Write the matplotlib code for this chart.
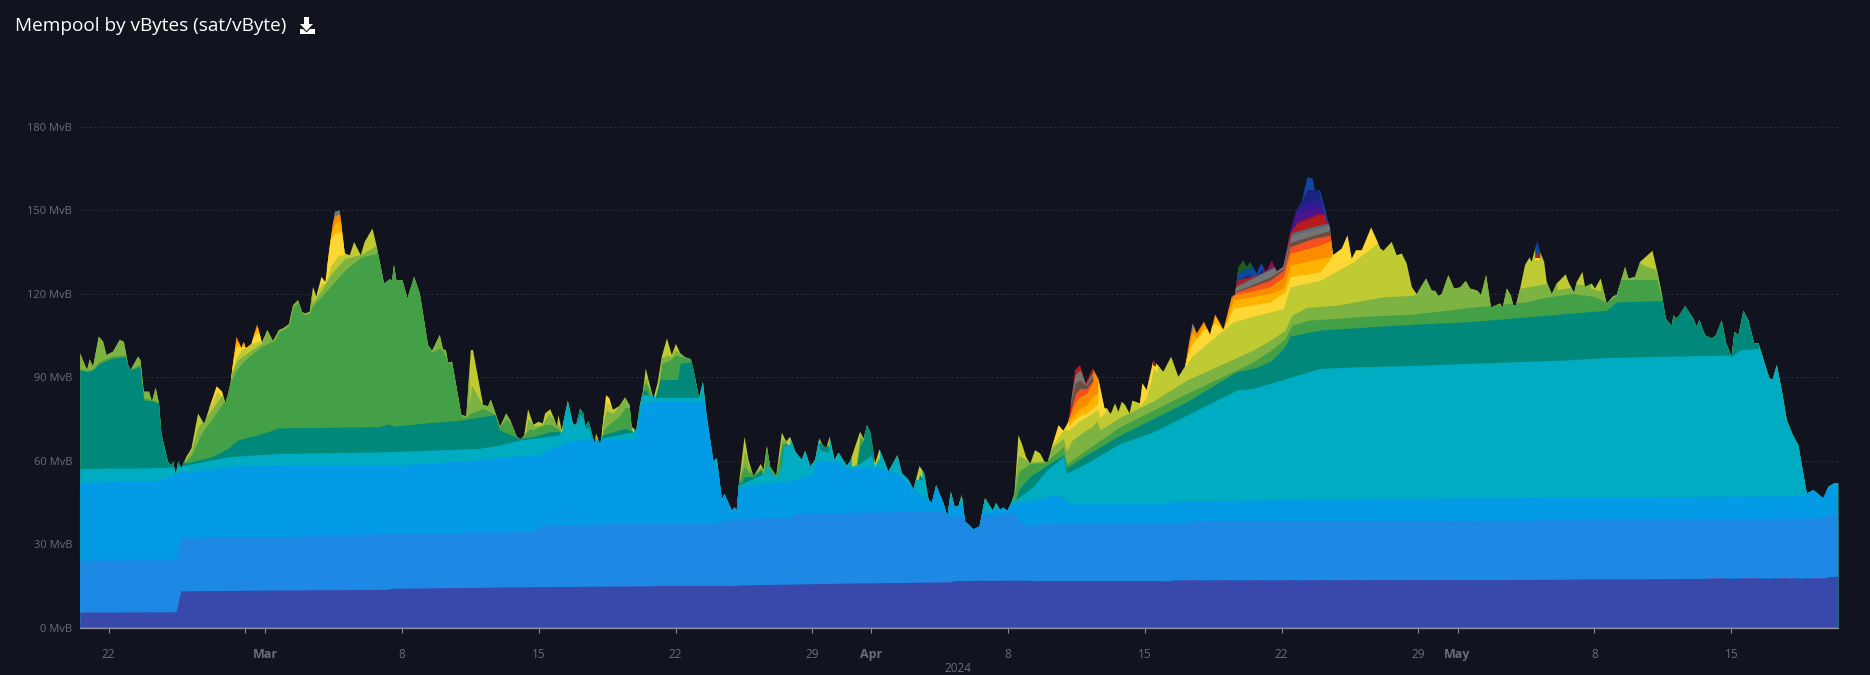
import numpy as np
import matplotlib
matplotlib.use("Agg")
import matplotlib.pyplot as plt
from matplotlib.patches import Polygon
from matplotlib.transforms import IdentityTransform

# x is days after 22 Feb 2024, y is cumulative MvB (top edge of each band)
# TOP means the band reaches the total line at that day
TOP = 200

total = [(-1.47,98.8),(-1.1,92.6),(-0.96,96.4),(-0.79,93.8),(-0.5,104.6),(-0.28,102.8),(-0.11,98),(0.23,99.2),(0.57,103.4),(0.78,102.8),
    (1.0,94.4),(1.13,92.6),(1.51,97.4),(1.63,96.2),(1.8,84.8),(2.07,84.8),(2.22,81.2),(2.41,86.2),(2.58,80.6),(2.7,69.8),
    (3.04,59.6),(3.21,58.4),(3.3,59.6),(3.44,54.8),(3.56,59.6),(3.73,57.2),(3.98,61.4),(4.24,64.4),(4.58,77),(4.89,73.2),
    (5.26,81.2),(5.53,86.8),(5.81,84.8),(5.98,80.6),(6.25,88.4),(6.54,104.6),(6.8,100.4),(6.91,102.8),(7.02,100.4),(7.31,101.9),
    (7.6,109.1),(7.85,102.2),(8.12,107),(8.41,103),(8.72,107),(8.93,107.6),(9.23,109.1),(9.44,115.9),(9.69,117.7),(9.9,113.5),
    (10.03,112.9),(10.29,113.5),(10.46,122.5),(10.63,119),(10.89,126.1),(11.09,124.3),(11.35,139.3),(11.57,149.5),(11.82,150.1),(12.08,134.5),
    (12.34,133.9),(12.56,138.7),(12.9,133.9),(13.1,138.7),(13.5,143.5),(13.7,137.5),(14.09,123.7),(14.38,125.2),(14.5,124.9),(14.6,130.3),
    (14.72,124.9),(15.03,124.9),(15.29,118.3),(15.63,126.1),(15.92,120.1),(16.34,101.6),(16.55,99.5),(16.94,105.2),(17.11,100),(17.25,99.8),
    (17.37,95.2),(17.57,95.6),(18.05,76.4),(18.3,76),(18.53,99.8),(18.64,99.8),(19.16,80),(19.41,79.6),(19.55,82),(20.03,72.2),
    (20.34,77),(20.54,74.6),(20.88,68.6),(21.09,67.7),(21.26,69.2),(21.46,78.5),(21.73,72.9),(21.99,74),(22.21,73.4),(22.33,77),
    (22.59,78.5),(22.79,75.2),(22.93,72.2),(23.01,76.4),(23.18,71),(23.49,81.6),(23.75,73.4),(23.92,72.8),(24.12,78.8),(24.29,77),
    (24.38,72.2),(24.55,74.3),(24.86,66.2),(24.94,69.8),(25.15,65.6),(25.23,69.8),(25.45,83.6),(25.62,82.4),(25.79,78.2),(26.13,79.7),
    (26.42,82.8),(26.65,80),(26.76,72.2),(26.99,70.8),(27.16,79.4),(27.33,84.8),(27.48,93.2),(27.62,89),(27.87,82.4),(28.08,87.8),
    (28.3,97.4),(28.56,104),(28.81,98),(29.02,102),(29.24,98.6),(29.49,97.2),(29.78,96.5),(29.92,92.6),(30.21,82.4),(30.4,88.4),
    (30.6,75.8),(30.94,59.7),(31.11,60.9),(31.37,45.9),(31.5,48),(31.88,42),(32.02,43.2),(32.13,42),(32.25,51.9),(32.53,68.6),
    (32.73,60.3),(32.99,54.3),(33.36,58.8),(33.5,56.7),(33.67,65.3),(33.84,57.9),(34.15,54.5),(34.44,70.1),(34.66,66.9),(34.86,68.6),
    (35.12,63.3),(35.46,60.3),(35.63,63.6),(35.89,57.9),(36.14,60.3),(36.35,68),(36.53,65.6),(36.71,64.4),(36.88,68.6),(37.13,60.3),
    (37.34,62.9),(37.76,58.2),(37.93,59.7),(38.44,70.4),(38.62,68),(38.79,72.8),(38.96,70.4),(39.21,59.1),(39.43,64.1),(39.89,56.1),
    (40.35,62),(40.58,55.5),(40.92,53.1),(41.17,49.7),(41.48,58.1),(41.72,55.5),(41.94,45.9),(42.11,44.7),(42.33,51.2),(42.7,44.7),
    (42.91,39.9),(43.08,48.9),(43.27,43.5),(43.47,43.5),(43.64,47.7),(43.81,38.1),(44.24,35.3),(44.55,36.3),(44.83,46.5),(45.23,42),
    (45.4,44.7),(45.6,42.3),(45.77,43.1),(45.98,41.9),(46.2,45.3),(46.34,48.3),(46.54,69.2),(46.71,66.2),(46.93,61.4),(47.14,58.8),
    (47.39,63.8),(47.65,62.6),(47.9,59.3),(48.04,59.6),(48.33,66.8),(48.59,72.8),(48.84,70.8),(49.1,74),(49.44,92.6),(49.69,94.4),
    (49.98,87.8),(50.34,93.2),(50.63,89.3),(50.94,78.8),(51.06,78.8),(51.26,76.8),(51.48,80.6),(51.65,77.6),(51.83,81.2),(52.0,80),
    (52.22,77),(52.37,81.6),(52.76,80.6),(52.88,87.8),(53.1,85.4),(53.44,96.2),(53.95,92),(54.35,97.4),(54.72,90.2),(55.06,93.8),
    (55.44,109.4),(55.66,105.8),(56.03,110),(56.34,105.2),(56.6,112.6),(56.85,109.4),(57.02,107),(57.45,119),(57.62,119.6),(57.79,129.7),
    (58.05,132.1),(58.22,129.7),(58.39,131.5),(58.73,127.3),(58.95,131),(59.21,128),(59.5,132.1),(59.75,128),(60.09,129.7),(60.43,141.7),
    (60.77,150.1),(61.03,153.1),(61.32,161.9),(61.59,161.5),(61.71,157.1),(61.97,157.3),(62.48,143.5),(62.62,133.9),(62.74,134.5),(63.08,136.3),
    (63.37,141.1),(63.59,132.7),(63.81,135.7),(64.1,135.7),(64.58,143.9),(64.87,139.3),(65.04,136.3),(65.21,135.5),(65.63,138.7),(65.89,133.9),
    (66.15,134.5),(66.4,130.9),(66.66,122.5),(66.91,119.9),(67.39,125.5),(67.68,121.1),(67.85,121.1),(68.02,119.2),(68.19,119.9),(68.53,126.7),
    (68.82,121.9),(69.13,122.3),(69.42,124.6),(69.64,121.9),(70.02,121.1),(70.2,119.5),(70.46,126.7),(70.71,115.1),(71.17,116.5),(71.31,115.1),
    (71.52,121.9),(71.72,119.5),(71.86,115.7),(71.99,115.9),(72.2,121.9),(72.45,130.3),(72.68,133.1),(72.79,131.5),(73.08,139.1),(73.22,135.1),
    (73.43,131.5),(73.56,124.3),(73.82,119.9),(74.07,123.7),(74.53,127),(74.67,124.3),(74.96,120.4),(75.1,124.3),(75.39,127.9),(75.52,122.5),
    (75.86,123.7),(76.03,121.9),(76.32,125.5),(76.63,116.5),(76.97,119.2),(77.14,119.5),(77.57,129.7),(77.74,125.5),(78.08,126.1),(78.34,131.5),
    (78.97,135.5),(79.22,127.9),(79.44,120.1),(79.65,111.1),(79.96,108.4),(80.04,112.3),(80.18,111.1),(80.35,112.3),(80.64,115.6),(81.06,111.1),
    (81.23,108.1),(81.37,110.5),(81.66,105.1),(82.0,103.9),(82.22,105.1),(82.51,110.5),(82.74,102.2),(83.02,97.4),(83.16,106.3),(83.37,105.1),
    (83.62,113.9),(83.88,110.5),(84.17,102.2),(84.39,102.2),(84.95,89.6),(85.12,89.2),(85.33,94.4),(85.58,85.4),(85.84,74.6),(86.15,69.2),
    (86.43,65.6),(86.86,48.2),(87.2,49.4),(87.71,46.4),(87.97,50.6),(88.31,52),(88.47,51.8)]

indigo_top = [(-1.47,5.5),(3.45,5.6),(3.7,13.2),(9,13.5),(14.2,13.7),(14.5,14.1),(22,14.7),(28,15),(32,15),(32.3,15.3),(38,16),(43,16.4),(43.3,16.9),
    (47,17),(47.4,16.7),(54,16.7),(54.5,17),(70,17.2),(80,17.6),(87.7,17.7),(88,18.3),(88.47,18.5)]

blue_top = [(-1.47,24.2),(3.45,24.4),(3.7,32.3),(9,32.7),(14.7,33.9),(21.8,34.5),(22,36.5),(26,37.5),(31.1,37.6),(32.2,39.2),(35,39.8),(35.1,41),
    (42.7,42),(43,40),(46.3,41.1),(46.8,36.9),(48.3,37.5),(55.15,37.5),(55.4,38.1),(70,38.5),(87,39.3),(87.6,39.5),(88,40.7),(88.47,41)]

lightblue_top = [(-1.47,52.2),(2.5,52.8),(3.4,55),(3.76,56),(6.6,58.2),(14.7,58.4),(18.7,60.2),(20,61.2),(21.7,62),(22.25,63.3),(23.4,66.8),(24.7,68),
    (26.85,67.7),(27,69.3),(27.28,80.6),(27.87,81.2),(30.26,81.2),(30.45,81),(30.6,76),(31,58),(31.2,58),(31.37,TOP),(32.2,TOP),(32.27,50.7),
    (35,53),(36,55),(36.2,59.7),(37.3,59.7),(37.76,57.3),(39.2,57.8),(40.35,55.5),(41.2,50),(41.9,46),(42,TOP),(42.75,TOP),(42.9,45),(43.6,44),
    (45,42),(46.2,44.7),(47.3,45.9),(48.3,47.7),(48.84,47),(49,44.7),(53.5,44.7),(55.15,45.5),(64,46.5),(75,46.8),(86.8,47.5),(87,TOP),(88.47,TOP)]

cyan_top = [(-1.47,57.2),(2.9,57.5),(3.9,58.4),(5.26,60.2),(6.1,61.4),(8.67,62.6),(14.3,63.2),(18.9,64.4),(20,65.6),(21,67.4),(23,69.2),(23.2,71),
    (23.35,TOP),(23.95,TOP),(24,74),(24.12,77),(24.3,75),(24.4,71),(24.55,72.5),(24.8,66),(25.15,68),(26.85,70.4),(27.1,76),(27.2,83.6),(27.9,83.6),
    (28,82.4),(30.2,82.4),(30.35,TOP),(31.3,TOP),(32.25,51.3),(33,53.7),(33.36,54.9),(33.5,55),(33.67,59),(33.84,56),(34.15,54),(34.4,58),(34.5,65),
    (34.86,66.2),(35,TOP),(36.1,TOP),(36.35,64),(36.84,63),(37,TOP),(37.95,TOP),(38.0,58),(38.44,59),(39,62),(39.2,58),(39.25,59),(39.43,60.9),
    (39.7,TOP),(40.2,TOP),(40.3,59),(40.45,TOP),(41.2,TOP),(41.3,53),(41.6,53),(41.8,TOP),(42.15,TOP),(42.3,49.5),(42.4,49),(42.6,TOP),(46.2,TOP),
    (46.3,45.3),(46.6,47),(47.3,50.7),(48,56.7),(48.84,61.5),(49,55.5),(50,59),(51.74,66.2),(53.45,70.4),(55.15,76.4),(57.7,85.4),(58.56,86),
    (60.26,89.6),(62,93.2),(64,93.8),(66,94.1),(74.6,96.2),(76.6,97.1),(82.9,98),(83,97.4),(83.45,99.8),(84.39,100.4),(84.5,TOP),(88.47,TOP)]

teal_top = [(-1.47,92.6),(-1.1,92),(-0.8,92.6),(-0.5,94.7),(0.15,96.8),(0.85,97.4),(1.1,92.6),(1.6,93.8),(1.8,81.8),(2.2,81.5),(2.58,80.6),(2.7,75),
    (3.9,59),(5.26,61.4),(6.1,64.4),(6.6,67.4),(8.16,70.4),(8.67,71.8),(13.8,72.2),(14.3,73.2),(14.64,72.4),(16.3,73.6),(18.05,74.6),(19.75,76.6),
    (20,71),(21,68),(21.7,68.6),(22.6,70.4),(23.1,70.4),(23.3,60),(23.95,60),(24,TOP),(24.85,TOP),(24.9,60),(25.23,69.2),(26.4,71.6),(26.85,70.4),
    (27.15,80),(27.33,84.8),(27.5,85.4),(27.87,80),(28,83.6),(28.2,89),(29.1,89),(29.24,95),(29.83,95.6),(30.18,83.6),(30.3,60),(32.4,52),(32.5,54.3),
    (33,54.3),(33.4,57),(33.55,50),(34.3,50),(34.44,64),(34.66,66.5),(34.9,60),(36.2,60),(36.35,66.5),(36.84,65),(37.05,50),(38.1,50),(38.44,65.5),
    (38.62,67.4),(38.79,TOP),(39,TOP),(39.15,50),(39.35,61),(39.5,50),(40.2,50),(40.35,61),(40.5,50),(41.3,50),(41.48,55),(41.7,53),(41.85,40),
    (46.2,40),(46.54,49.5),(47.14,54.3),(48,58.4),(48.84,62),(49,57.3),(50,62),(51.74,69.2),(53.45,75.2),(55.15,81.2),(57.7,92),(58.56,93.2),
    (59.41,95.6),(60.18,101),(60.43,104.8),(61.97,107),(64.5,108.1),(66,108.8),(69.6,110),(72.5,111.7),(76.63,114.1),(77.14,117.1),(79.44,117.5),
    (79.5,TOP),(84.4,TOP),(84.55,90),(88.47,40)]

green_top = [(-1.47,93),(-1.1,92.5),(-0.8,93),(-0.5,95.5),(0.15,97.5),(0.85,98),(1.1,93),(1.6,94.5),(1.8,82.5),(2.2,82),(2.58,81),(2.7,75),
    (3.9,59.5),(4.24,62),(4.75,69.8),(5.26,74.6),(5.94,81.8),(6.25,88.4),(6.54,92.6),(6.97,96.2),(7.82,101),(8.5,103.4),(8.72,106.4),(8.93,107),
    (9.23,108.5),(9.44,115.2),(9.69,117),(9.9,113),(10.03,112.4),(10.29,113),(10.4,115.3),(11.4,123),(12.08,128.5),(12.93,133.3),(13.7,134.5),
    (13.85,TOP),(16.3,TOP),(16.5,99),(16.94,100.4),(17.1,99.5),(17.37,95),(17.57,95),(18.05,75.8),(18.3,75.6),(18.47,77),(19.16,78.8),(19.84,76.4),
    (20,72),(20.35,75),(20.6,73),(20.9,68.6),(21.1,68),(21.45,71),(21.7,71),(22.3,73),(22.6,73),(23.1,71),(23.3,60),(25.2,60),(25.3,71),(25.6,73),
    (26.1,76),(26.42,79),(26.65,79),(26.75,71),(27.1,60),(27.33,86),(27.48,88),(27.62,86),(27.87,81),(28.1,85),(28.3,95),(28.7,96),(29,98),
    (29.8,96.5),(30.2,82),(30.3,60),(32.25,52.5),(32.5,58),(32.73,56),(33,55),(33.36,57),(33.5,55),(33.67,66),(33.84,58),(34.15,55),(34.44,66),
    (34.66,66.5),(34.9,60),(36.2,60),(36.35,66.8),(36.84,65.5),(37.05,50),(38.1,50),(38.44,68),(38.62,67.5),(38.7,50),(46.2,45),(46.34,48.3),
    (46.54,56),(47.14,59),(47.9,59.3),(48.84,65),(49,58.8),(50,63.8),(51.74,72.2),(53.45,78.2),(55.15,84.2),(57.88,93.2),(58.56,95.6),(59.41,99.5),
    (60.18,103.9),(60.52,108.7),(61.37,110.5),(64.5,112),(66.74,112.7),(69.64,115.1),(72.5,117.1),(73.6,118.9),(74.9,120.1),(76.03,119),
    (76.63,117),(77.14,119.5),(77.25,124.9),(79.2,124.9),(79.44,118),(79.5,60),(88.47,60)]

lightgreen_top = [(-1.47,TOP),(2.8,TOP),(3.9,60),(4.24,64),(4.58,72.2),(5.26,78.2),(5.8,83.6),(6,80.5),(6.28,91.4),(6.6,96.2),(7.3,99.8),(7.82,102.2),
    (8.4,TOP),(10.3,TOP),(10.4,116.5),(10.89,121.3),(11.4,127.3),(12.08,132.7),(12.93,134.2),(13.7,137.5),(13.85,TOP),(18.3,TOP),(18.45,80),(18.56,87.2),
    (18.8,84.2),(19.1,80.5),(19.2,TOP),(20.85,TOP),(20.9,68),(21.1,68.2),(21.3,69),(21.45,75),(21.8,72.5),(22.2,73),(22.5,77),(23.1,72),(23.3,60),
    (25.2,60),(25.3,74),(25.45,78),(25.8,77),(26.42,82.8),(26.65,80),(26.75,72),(27.1,60),(27.3,86),(27.48,90),(27.62,87),(27.9,82),(28.1,87),(28.3,97),
    (28.56,98),(28.8,97.5),(29,100),(29.2,98.6),(29.8,TOP),(30.25,TOP),(30.3,60),(32.25,52.5),(32.45,60),(32.53,64),(32.73,58),(32.99,55),(33.36,58),
    (33.5,57),(33.67,66),(33.84,58),(34.15,55),(34.44,68),(34.66,66.9),(34.9,60),(38.1,50),(38.44,69.5),(38.62,68),(38.7,50),(46.2,45),(46.54,62),
    (47.14,59.5),(47.9,60),(48.3,65),(48.84,68),(49,63.5),(49.3,67.5),(49.7,69.5),(50,71),(50.35,72.5),(50.55,74.5),(50.7,71),(51.74,75.6),(53.45,81.5),
    (55.15,89),(58.56,99.8),(59.41,103.3),(60.18,106.9),(60.52,112.3),(61.3,115.1),(62.8,115.9),(65.2,118.9),(66.74,119.5),(66.9,120),(67,TOP),(72,TOP),(72.1,121.9),(73.56,123.7),
    (73.8,TOP),(74.05,TOP),(74.1,121.5),(74.53,122),(74.8,122),(74.96,TOP),(75.05,TOP),(75.1,123),(75.5,123),(75.7,TOP),(75.75,TOP),(75.8,122),(76.32,121),
    (76.5,TOP),(78.2,TOP),(78.34,130.9),(79.2,128.5),(79.4,TOP),(88.47,TOP)]

lime_top = [(-1.47,TOP),(4.5,TOP),(5.2,79.4),(5.53,85),(5.81,83),(6.0,81),(6.3,92),(6.54,97.4),(6.8,100),(7.3,102),(7.85,103.5),(8.0,TOP),(10.65,TOP),
    (10.7,121),(10.89,123.7),(11.1,124),(11.35,129.8),(11.74,133.9),(12.05,134),(12.15,TOP),(25.25,TOP),(25.3,76),(25.45,81),(25.7,80),(25.8,TOP),(48.1,TOP),
    (48.3,66),(48.84,71),(49.1,71),(49.44,73),(49.7,74.6),(50,75.7),(50.6,78.5),(50.7,75.5),(51,77.5),(51.1,TOP),(52.7,TOP),(52.75,79.5),(53.1,83),(53.15,85),
    (53.3,88),(53.44,93.5),(53.65,91.5),(53.75,TOP),(54.9,TOP),(54.98,93.2),(55.4,97.4),(56,101),(57,107),(57.53,110),(59.41,113.5),(60.09,114.7),(60.43,122.5),(61.97,124.9),
    (63.67,131.5),(64.87,138.1),(65.0,TOP),(72.9,TOP),(72.95,132),(73.2,132),(73.3,TOP),(88.47,TOP)]

yellow_top = [[(5.15,TOP),(6.05,TOP)],
    [(6.25,93),(6.54,101),(7.0,101),(7.3,104),(7.6,106),(7.95,105)],
    [(10.65,TOP),(11.15,TOP)],
    [(11.15,131),(11.35,139.4),(11.57,141.7),(11.9,142.3),(12.15,134)],
    [(25.25,TOP),(25.85,TOP)],
    [(48.2,TOP),(49.05,TOP),(49.1,72.5),(49.44,75),(49.7,76.4),(50,77),(50.6,80.5),(50.7,TOP),(51.1,TOP)],
    [(52.7,TOP),(53.35,TOP),(53.4,94.5),(53.55,94),(53.6,TOP),(53.75,TOP)],
    [(54.9,93),(54.98,93.5),(55.15,97),(55.44,102.2),(56.03,107),(56.6,109.4),(57.02,107.3),(57.53,114.8),(59.41,117.1),(60.18,120.7),(60.43,126.1),(61.97,127.9),(62.56,133.3),(62.6,TOP),(65.1,TOP)],
    [(72.95,133),(73.2,133)]]

amber_top = [[(6.25,95),(6.54,103),(6.8,102),(7.3,105),(7.6,108),(7.95,106)],
    [(11.15,133),(11.35,141),(11.57,145.3),(11.9,146.5),(12.15,134.5)],
    [(49.0,73),(49.44,77),(49.7,78.8),(50,79.8),(50.34,83),(50.6,84.5),(50.9,79)],
    [(52.75,82),(52.88,85),(53.05,84),(53.2,85)],
    [(55.0,94),(55.44,105.8),(55.66,104),(56.03,109),(56.34,105.4),(56.6,112),(56.85,109.3),(57.02,107.5),(57.53,117.8),(59.41,120.1),(60.09,122),(60.43,130.3),(61.97,132.7),(62.56,133.5)]]

orange_top = [[(6.25,TOP),(7.95,TOP)],
    [(11.15,135),(11.3,143),(11.57,148),(11.9,149),(12.1,137)],
    [(49.0,73.5),(49.44,81),(49.7,83),(50,84),(50.34,88),(50.6,TOP),(50.95,TOP)],
    [(52.75,83),(53.2,86)],
    [(55.1,100),(55.44,107.6),(55.55,TOP),(57.4,TOP),(57.45,118.5),(57.53,119.6),(59.41,122.5),(60.09,126.1),(60.43,134.5),(61.97,137.5),(62.56,139.3),(62.65,133.5)]]

deeporange_top = [[(49.1,75),(49.44,84),(49.7,86),(50,85.8),(50.3,88.5),(50.55,89)],
    [(57.5,120.2),(59.41,124.9),(60.09,128.5),(60.43,136.9),(61.6,139.9),(62.5,141.1),(62.65,133.6)]]

brown_top = [[(49.2,80),(49.44,88),(49.7,89),(50,87),(50.3,90),(50.55,90)],
    [(57.5,120.5),(59.41,126),(60.09,129.1),(60.43,138.5),(61.6,141),(62.5,142.9),(62.65,133.7)]]

grey_top = [[(11.4,TOP),(12.05,TOP)],
    [(49.2,82),(49.44,91),(49.7,92.6),(49.98,87.5),(50.3,91.5),(50.55,91)],
    [(52.7,TOP),(53.2,TOP)],
    [(55.25,TOP),(55.55,TOP)],
    [(57.45,120.5),(57.53,121.9),(60.09,130.9),(60.52,141.1),(61.8,143.5),(62.45,144.7),(62.6,134)]]

bluegrey_top = [[(57.53,122.3),(60.09,131.5),(60.52,142),(61.8,144.5),(62.4,145.5),(62.6,134)]]

red_top = [[(49.1,TOP),(50.6,TOP)],
    [(57.45,121),(57.75,125),(58.7,126.8),(59.75,129.1),(60.43,142),(60.77,145.3),(61.8,148.3),(62.2,148.5),(62.6,134)],
    [(72.98,134),(73.1,135),(73.2,133)]]

pink_top = [[(59.05,TOP),(60.0,TOP)],
    [(60.2,133),(60.77,146),(61.8,149),(62.2,149.2),(62.6,134)],
    [(53.35,TOP),(53.6,TOP)]]

purple_top = [[(57.5,122),(57.8,124.3),(58.3,126),(59,126.8)],
    [(60.3,140),(60.6,148.3),(61.2,150.1),(62,151.3),(62.55,135)]]

deep_top = [[(60.3,141),(60.7,150.1),(61.2,153.1),(62,153.7),(62.5,137)]]

navy_top = [[(57.5,122.5),(57.8,125),(58.3,127),(58.6,125.5),(59,129),(59.1,125)],
    [(60.6,148),(61,153.1),(61.3,157.3),(61.9,157.3),(62.4,140)]]

deepblue_top = [[(57.45,TOP),(57.6,TOP),(57.75,127),(58.05,129),(58.4,129),(58.6,TOP),(59.05,TOP)],
    [(60.0,TOP),(62.6,TOP)],
    [(72.95,TOP),(73.2,TOP)]]

forest_top = [[(57.6,TOP),(58.6,TOP)]]

# painted from the highest band down, each one from zero up to its top
band_colors = {
    "forest": "#1B5E20", "deepblue": "#0D47A1", "navy": "#1A237E", "deep": "#311B92", "purple": "#4A148C",
    "pink": "#880E4F", "red": "#B71C1C", "bluegrey": "#546E7A", "grey": "#757575", "brown": "#6D4C41",
    "deeporange": "#F4511E", "orange": "#FB8C00", "amber": "#FFB300", "yellow": "#FDD835",
}
upper_bands = [("forest", forest_top), ("deepblue", deepblue_top), ("navy", navy_top), ("deep", deep_top), ("purple", purple_top),
    ("pink", pink_top), ("red", red_top), ("bluegrey", bluegrey_top), ("grey", grey_top), ("brown", brown_top),
    ("deeporange", deeporange_top), ("orange", orange_top), ("amber", amber_top), ("yellow", yellow_top)]
lower_bands = [(lime_top, "#C0CA33"), (lightgreen_top, "#7CB342"), (green_top, "#43A047"), (teal_top, "#00897B"),
    (cyan_top, "#00ACC1"), (lightblue_top, "#039BE5"), (blue_top, "#1E88E5"), (indigo_top, "#3949AB")]

y_ticks = [0, 30, 60, 90, 120, 150, 180]
tick_days = [0, 7, 8, 15, 22, 29, 36, 39, 46, 53, 60, 67, 69, 76, 83]
tick_names = ["22", "", "Mar", "8", "15", "22", "29", "Apr", "8", "15", "22", "29", "May", "8", "15"]
month_names = ["Mar", "Apr", "May"]

BG = "#11131E"
LABEL = "#6A6C79"

plt.rcParams["font.family"] = ["Open Sans", "DejaVu Sans"]

fig = plt.figure(figsize=(18.7, 6.75), dpi=100, facecolor=BG)
ax = fig.add_axes([80 / 1870, 47.5 / 675, 1758 / 1870, 500.5 / 675], facecolor=BG)

total_days, total_vals = zip(*total)
outline = [(total_days[0], 0)] + total + [(total_days[-1], 0)]
clip = Polygon(outline, closed=True, transform=ax.transData, facecolor="none", edgecolor="none")
ax.add_patch(clip)


def draw_band(points, color):
    days, tops = zip(*points)
    coll = ax.fill_between(days, 0, tops, color=color, linewidth=0, zorder=3)
    coll.set_clip_path(clip)


for name, segments in upper_bands:
    for seg in segments:
        draw_band(seg, band_colors[name])
for points, color in lower_bands:
    draw_band(points, color)

ax.set_xlim(-1.46, 88.46)
ax.set_ylim(0, 180)
ax.set_yticks(y_ticks)
ax.set_yticklabels(["%d MvB" % v for v in y_ticks])
ax.set_xticks(tick_days)
ax.set_xticklabels(tick_names)
ax.tick_params(axis="y", length=0, pad=5.5, labelsize=8, labelcolor=LABEL)
ax.tick_params(axis="x", length=3.5, width=0.8, color="#8A8D9B", pad=11, labelsize=8.5, labelcolor=LABEL)
for lab in ax.get_xticklabels():
    if lab.get_text() in month_names:
        lab.set_fontweight("bold")
        lab.set_fontsize(9)

ax.grid(axis="y", color="#2A2D3A", linewidth=0.8, linestyle=(0, (2, 2)), zorder=1)
for side in ["top", "right", "left"]:
    ax.spines[side].set_visible(False)
ax.spines["bottom"].set_color("#8A8D9B")
ax.spines["bottom"].set_linewidth(1)
ax.spines["bottom"].set_zorder(5)

fig.text(958 / 1870, 6 / 675, "2024", color=LABEL, fontsize=8.5, ha="center", va="center")
fig.text(15 / 1870, 649 / 675, "Mempool by vBytes (sat/vByte)", color="white", fontsize=13.7, ha="left", va="center")

# download icon, in figure pixels
arrow = [(304, 658), (309, 658), (309, 651), (313, 651), (306.5, 644), (300, 651), (304, 651)]
tray = [(300, 646), (303, 646), (306.5, 642.5), (310, 646), (315, 646), (315, 641), (300, 641)]
for shape in [arrow, tray]:
    fig.add_artist(Polygon(shape, closed=True, facecolor="white", edgecolor="none", transform=IdentityTransform()))

fig.savefig("out.png", dpi=100, facecolor=BG)
